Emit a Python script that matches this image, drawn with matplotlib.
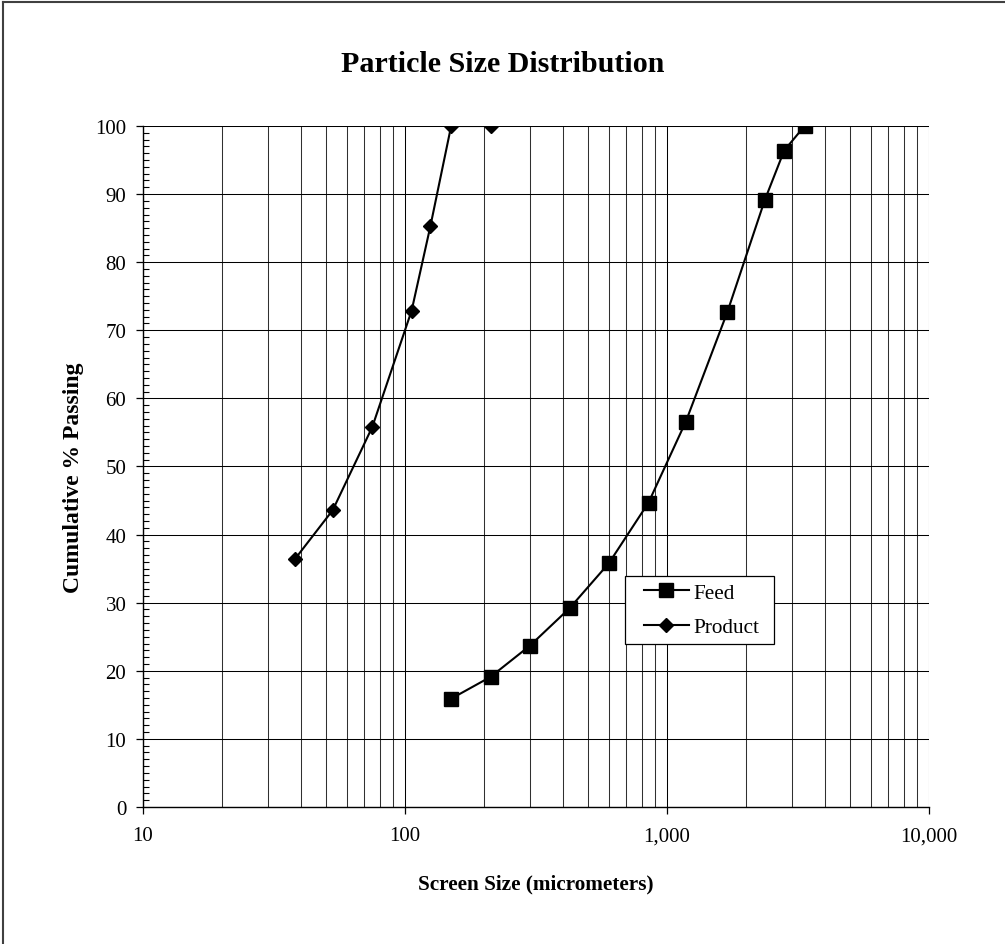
import matplotlib
matplotlib.use("Agg")
import matplotlib.pyplot as plt
from matplotlib.lines import Line2D
from matplotlib.patches import Rectangle
from matplotlib.ticker import FixedLocator, MultipleLocator, NullFormatter

# Sieve data (micrometers vs cumulative % passing)
FEED_SIZE = [150, 212, 300, 425, 600, 850, 1180, 1700, 2360, 2800, 3350]
FEED_PASS = [15.9, 19.1, 23.7, 29.2, 35.8, 44.7, 56.6, 72.7, 89.1, 96.4, 100.0]

PRODUCT_SIZE = [38, 53, 75, 106, 125, 150, 212]
PRODUCT_PASS = [36.4, 43.6, 55.8, 72.9, 85.3, 100.0, 100.0]

X_TICKS = [10, 100, 1000, 10000]
X_TICK_LABELS = ["10", "100", "1,000", "10,000"]
Y_TICKS = list(range(0, 101, 10))

SERIF = ["Liberation Serif", "DejaVu Serif"]
plt.rcParams["font.family"] = SERIF

fig = plt.figure(figsize=(10.05, 9.45), dpi=100)
ax = fig.add_axes([0.1423, 0.1450, 0.7821, 0.7206])

# minor vertical grid at 2..9 of each decade
minor_x = [m * 10 ** k for k in (1, 2, 3) for m in range(2, 10)]

ax.set_xscale("log")
ax.set_xlim(10, 10000)
ax.set_ylim(0, 100)
ax.xaxis.set_major_locator(FixedLocator(X_TICKS))
ax.set_xticklabels(X_TICK_LABELS)
ax.xaxis.set_minor_locator(FixedLocator(minor_x))
ax.xaxis.set_minor_formatter(NullFormatter())
ax.yaxis.set_major_locator(FixedLocator(Y_TICKS))
ax.yaxis.set_minor_locator(MultipleLocator(1))

ax.grid(True, which="major", axis="both", color="black", linewidth=0.75)
ax.grid(True, which="minor", axis="x", color="#303030", linewidth=0.75)
ax.set_axisbelow(True)

ax.tick_params(axis="both", which="major", direction="out", length=5,
               width=0.9, labelsize=15, pad=7)
ax.tick_params(axis="x", which="minor", length=0)
ax.tick_params(axis="y", which="minor", direction="in", length=4, width=0.8)
ax.tick_params(axis="x", which="major", pad=9)

for side in ("top", "right"):
    ax.spines[side].set_visible(False)
for side in ("left", "bottom"):
    ax.spines[side].set_linewidth(1.0)

ax.plot(FEED_SIZE, FEED_PASS, color="black", linewidth=1.5, marker="s",
        markersize=9.7, label="Feed", zorder=5)
ax.plot(PRODUCT_SIZE, PRODUCT_PASS, color="black", linewidth=1.5, marker="D",
        markersize=7.4, label="Product", zorder=5)

ax.set_xlabel("Screen Size (micrometers)", fontsize=15.3, fontweight="bold",
              va="center")
ax.xaxis.set_label_coords(0.5, -0.113)
ax.set_ylabel("Cumulative % Passing", fontsize=17, fontweight="bold",
              va="center")
ax.yaxis.set_label_coords(-0.089, 0.485)

fig.text(0.5, 1 - 64 / 945, "Particle Size Distribution", ha="center",
         va="center", fontsize=21.6, fontweight="bold")

# legend box drawn by hand so its padding matches the original
ax.add_patch(Rectangle((0.6132, 0.2394), 0.1896, 0.0998,
                       transform=ax.transAxes, facecolor="white",
                       edgecolor="black", linewidth=0.9, zorder=6))
leg = ax.legend(loc="center", bbox_to_anchor=(0.711, 0.289),
                fontsize=15.3, frameon=False, handlelength=2.1,
                handletextpad=0.25, labelspacing=0.7, borderpad=0,
                borderaxespad=0)
leg.set_zorder(7)

# outer chart frame (left and top edges visible in the crop)
fig.add_artist(Line2D([0.003, 0.003], [0.0, 0.997], transform=fig.transFigure,
                      color="#404040", linewidth=1.5))
fig.add_artist(Line2D([0.003, 1.0], [0.997, 0.997], transform=fig.transFigure,
                      color="#404040", linewidth=1.5))

fig.savefig("out.png", dpi=100, facecolor="white")
